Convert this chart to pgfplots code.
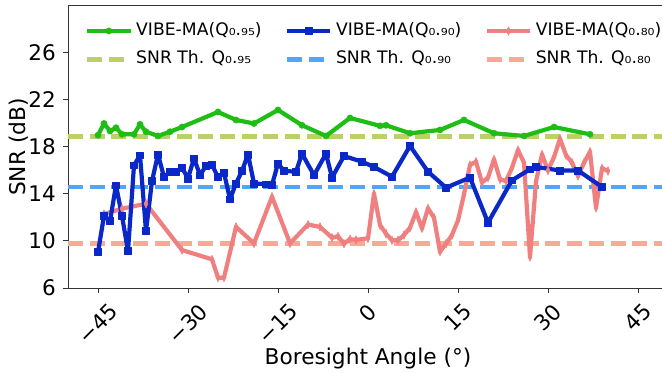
\documentclass[border=0pt]{standalone}
\usepackage{pgfplots}
\pgfplotsset{compat=1.18}
\usepackage{fontspec}
\setmainfont{DejaVu Sans}
\usepackage{graphicx}
\definecolor{cgreen}{RGB}{30,190,20}
\definecolor{cblue}{RGB}{10,40,200}
\definecolor{cred}{RGB}{240,128,128}
\definecolor{dgreen}{RGB}{188,208,104}
\definecolor{dblue}{RGB}{77,166,255}
\definecolor{dred}{RGB}{248,170,150}
\newcommand{\tfont}{\fontsize{21.5bp}{22bp}\selectfont}
\newcommand{\lfont}{\fontsize{21.7bp}{22bp}\selectfont}
\newcommand{\legfont}{\fontsize{17.2bp}{18bp}\selectfont}
\newcommand{\lt}[1]{\makebox[148.6bp][l]{#1}}
\begin{document}
\begin{tikzpicture}
\useasboundingbox (0,0) rectangle (662bp,373bp);
\begin{axis}[
  at={(68bp,85bp)}, anchor=south west,
  scale only axis, width=597bp, height=282bp,
  xmin=-50, xmax=49.5, ymin=6, ymax=30,
  xtick={-45,-30,-15,0,15,30,45},
  xticklabels={\rotatebox{45}{−45},\rotatebox{45}{−30},\rotatebox{45}{−15},\rotatebox{45}{0},\rotatebox{45}{15},\rotatebox{45}{30},\rotatebox{45}{45}},
  ytick={6,10,14,18,22,26},
  yticklabels={6,10,14,18,22,26},
  tick align=outside, xtick pos=left, ytick pos=left,
  major tick length=5bp,
  tick style={black!80, line width=1bp},
  axis line style={black!80, line width=1bp},
  xticklabel style={font=\tfont, anchor=north, inner sep=0pt, yshift=-9bp},
  yticklabel style={font=\tfont, anchor=east, inner sep=0pt, xshift=-7bp},
  xlabel={Boresight Angle (°)}, ylabel={SNR (dB)},
  every axis x label/.style={at={(axis description cs:0.5025,-0.2695)}, anchor=base, font=\lfont},
  every axis y label/.style={at={(axis description cs:-0.0821,0.5)}, rotate=90, anchor=center, font=\lfont},
  legend columns=3,
  legend style={at={(axis description cs:0.0285,0.9415)}, anchor=north west,
    draw=none, fill=none, inner sep=0pt, outer sep=0pt, row sep=11.3bp, column sep=0pt,
    font=\legfont, nodes={inner sep=0pt, text height=13bp, text depth=4bp},
    /tikz/every odd column/.append style={column sep=3.4bp}},
  legend image code/.code={\draw[mark repeat=2,mark phase=2] plot coordinates {(0bp,0bp) (21.65bp,0bp) (43.3bp,0bp)};},
  line join=round,
]
\addlegendimage{cgreen, line width=4.2bp, mark=*, mark size=3.1bp, mark options={solid, line width=0.5bp}}
\addlegendentry{\lt{VIBE-MA(Q₀.₉₅)}}
\addlegendimage{cblue, line width=4.2bp, mark=square*, mark size=3.4bp, mark options={solid, line width=0.5bp}}
\addlegendentry{\lt{VIBE-MA(Q₀.₉₀)}}
\addlegendimage{cred, line width=4.2bp, mark=diamond*, mark size=4.3bp, mark options={solid, line width=0.5bp, xscale=0.6}}
\addlegendentry{\lt{VIBE-MA(Q₀.₈₀)}}
\addlegendimage{dgreen, line width=4.5bp, dash pattern=on 15bp off 6.7bp}
\addlegendentry{\lt{SNR Th. Q₀.₉₅}}
\addlegendimage{dblue, line width=4.5bp, dash pattern=on 15bp off 6.7bp}
\addlegendentry{\lt{SNR Th. Q₀.₉₀}}
\addlegendimage{dred, line width=4.5bp, dash pattern=on 15bp off 6.7bp}
\addlegendentry{\lt{SNR Th. Q₀.₈₀}}

\addplot[forget plot, dgreen, line width=4.5bp, dash pattern=on 15bp off 6.7bp] coordinates {(-50,18.9) (49.5,18.9)};
\addplot[forget plot, dblue, line width=4.5bp, dash pattern=on 15bp off 6.7bp] coordinates {(-50,14.6) (49.5,14.6)};
\addplot[forget plot, dred, line width=4.5bp, dash pattern=on 15bp off 6.7bp] coordinates {(-50,9.8) (49.5,9.8)};

\addplot[forget plot, cred, line width=4.2bp, mark=diamond*, mark size=4.3bp, mark options={solid, line width=0.5bp, xscale=0.6}] coordinates {
(-44,12.3) (-41,12.75) (-37,13.17) (-31,9.23) (-26,8.44) (-25,6.88) (-24,6.88) (-22,11.2) (-19,9.8) (-16,13.77) (-13,9.8) (-10,11.4) (-8,11.2) (-6,10.28) (-5,10.4) (-4,9.77) (-3,10.15) (-2,10.1) (0,10.23) (1,14.03) (2,11.36) (3,10.62) (4,10.06) (5,10.06) (6,10.51) (7,11.13) (8,12.47) (9,11.08) (10,12.78) (11,11.98) (12,9.09) (13,9.77) (14,10.51) (15,11.76) (16,13.97) (17,16.47) (18,16.75) (19,14.97) (20,15.4) (21,16.95) (22,15.25) (23,15.1) (24,16.24) (25,17.74) (26,16.66) (27,8.64) (28,15.05) (29,17.37) (30,16.0) (31,17.15) (32,18.7) (33,17.3) (34,16.66) (35,15.53) (36,16.66) (37,17.6) (38,12.83) (39,16.19) (40,15.96)
};
\addplot[forget plot, cgreen, line width=4.2bp, mark=*, mark size=3.1bp, mark options={solid, line width=0.5bp}] coordinates {
(-45,19.0) (-44,20.0) (-43,19.36) (-42,19.64) (-41,19.08) (-39,19.08) (-38,19.93) (-37,19.3) (-35,18.94) (-33,19.3) (-31,19.7) (-25,20.98) (-22,20.3) (-19,20.0) (-15,21.15) (-11,19.85) (-7,18.94) (-3,20.47) (2,19.8) (3,19.85) (7,19.17) (12,19.45) (16,20.3) (21,19.17) (26,18.94) (31,19.7) (37,19.08)
};
\addplot[forget plot, cblue, line width=4.2bp, mark=square*, mark size=3.4bp, mark options={solid, line width=0.5bp}] coordinates {
(-45,9.06) (-44,12.13) (-43,11.7) (-42,14.74) (-41,12.13) (-40,9.15) (-39,16.44) (-38,17.3) (-37,10.85) (-36,15.1) (-35,17.37) (-34,15.45) (-33,15.87) (-32,15.9) (-31,16.24) (-30,15.33) (-29,17.04) (-28,15.6) (-27,16.4) (-26,16.47) (-25,15.45) (-24,15.8) (-23,13.55) (-22,14.9) (-21,15.96) (-20,17.37) (-19,14.9) (-17,14.83) (-16,14.77) (-15,16.6) (-14,15.96) (-12,15.9) (-11,17.43) (-9,15.6) (-7,17.43) (-6,15.4) (-4,17.23) (-1,16.75) (1,16.3) (4,15.47) (7,18.09) (10,15.9) (13,14.54) (17,15.4) (20,11.56) (24,15.17) (27,16.1) (28,16.3) (32,16.0) (35,16.0) (39,14.6)
};
\end{axis}
\end{tikzpicture}
\end{document}
